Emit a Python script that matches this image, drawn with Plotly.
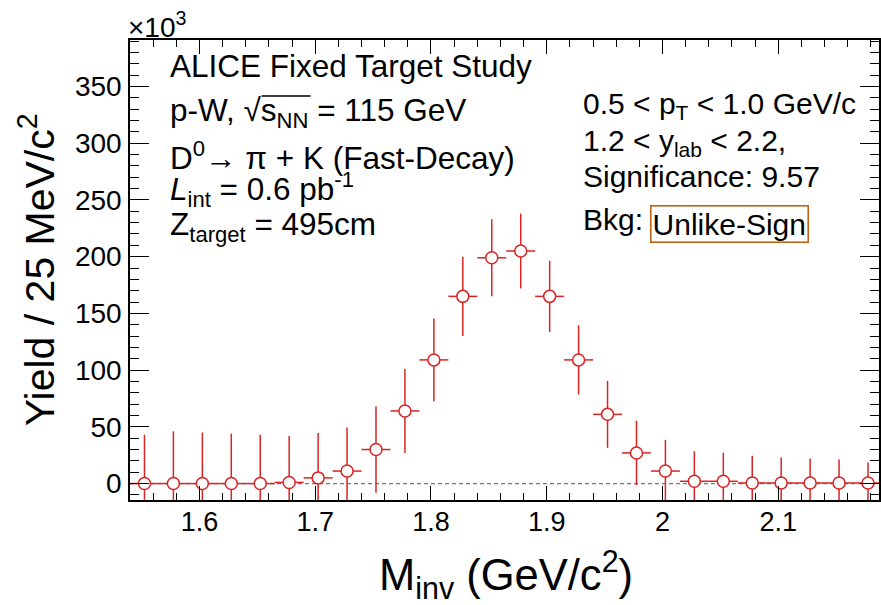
import plotly.graph_objects as go

# ---- data (yield in units of 10^3 per 25 MeV/c^2) ----
mass = [1.5525, 1.5775, 1.6025, 1.6275, 1.6525, 1.6775, 1.7025, 1.7275, 1.7525,
        1.7775, 1.8025, 1.8275, 1.8525, 1.8775, 1.9025, 1.9275, 1.9525, 1.9775,
        2.0025, 2.0275, 2.0525, 2.0775, 2.1025, 2.1275, 2.1525, 2.1775]
yields = [0, 0, 0, 0, 0, 1, 5, 11, 30,
          64, 109, 165, 199, 205, 165, 109, 61, 27,
          11, 2, 2, 0.5, 0.5, 0.5, 0.5, 0.5]
errors = [43, 46, 45, 44, 43, 41, 39.5, 38.5, 38,
          37, 36.5, 35, 34, 33, 31.5, 30.5, 29.5, 28.5,
          27.5, 26.5, 25.2, 24, 22.5, 21.5, 20.8, 18]
half_bin = [0.0125] * len(mass)

x_tickvals = [1.6, 1.7, 1.8, 1.9, 2.0, 2.1]
x_ticktext = ["1.6", "1.7", "1.8", "1.9", "2", "2.1"]
y_tickvals = [0, 50, 100, 150, 200, 250, 300, 350]
y_ticktext = ["0", "50", "100", "150", "200", "250", "300", "350"]

FONT = "Liberation Sans, Arial, Helvetica, sans-serif"
RED = "rgb(218,35,35)"

# plot area in pixels
W, H = 881, 605
L, R, T, B = 130, 0, 40, 105
PW, PH = W - L - R, H - T - B


def px(xp):
    return (xp - L) / PW


def py(yp):
    return (H - B - yp) / PH


fig = go.Figure()

fig.add_trace(go.Scatter(
    x=mass, y=yields, mode="markers",
    marker=dict(symbol="circle", size=12, color="white",
                line=dict(color=RED, width=1.5)),
    error_y=dict(type="data", array=errors, visible=True, color=RED,
                 thickness=1.5, width=0),
    error_x=dict(type="data", array=half_bin, visible=True, color=RED,
                 thickness=1.5, width=0),
    showlegend=False,
))

# dashed zero line
fig.add_shape(type="line", xref="paper", x0=0, x1=1, yref="y", y0=0, y1=0,
              line=dict(color="rgb(120,120,120)", width=1.3, dash="4px,3px"),
              layer="below")

fig.update_layout(
    width=W, height=H,
    margin=dict(l=L, r=R, t=T, b=B, pad=0),
    paper_bgcolor="white", plot_bgcolor="white",
    font=dict(family=FONT, color="black"),
    xaxis=dict(
        range=[1.54, 2.187], tickvals=x_tickvals, ticktext=x_ticktext,
        ticks="inside", ticklen=14, tickwidth=1.3, tickcolor="black",
        showline=True, linecolor="black", linewidth=1.5, mirror="ticks",
        showgrid=False, zeroline=False,
        tickfont=dict(size=27, family=FONT, color="black"),
        ticklabelstandoff=-3,
        minor=dict(ticks="inside", ticklen=7, dtick=0.02, tick0=1.54,
                   tickwidth=1.2, tickcolor="black", showgrid=False),
    ),
    yaxis=dict(
        range=[-14.5, 391], tickvals=y_tickvals, ticktext=y_ticktext,
        ticks="inside", ticklen=19, tickwidth=1.3, tickcolor="black",
        showline=True, linecolor="black", linewidth=1.5, mirror="ticks",
        showgrid=False, zeroline=False,
        tickfont=dict(size=28, family=FONT, color="black"),
        ticklabelstandoff=1,
        minor=dict(ticks="inside", ticklen=9, dtick=10, tick0=0,
                   tickwidth=1.2, tickcolor="black", showgrid=False),
    ),
)

ann = []
# axis titles
ann.append(dict(text="Yield / 25 MeV/c<sup>2</sup>", textangle=-90,
                x=px(37), y=py(270), xref="paper", yref="paper",
                xanchor="center", yanchor="middle", showarrow=False,
                font=dict(size=41, family=FONT)))
ann.append(dict(text="M<sub>inv</sub> (GeV/c<sup>2</sup>)",
                x=px(507), y=py(574), xref="paper", yref="paper",
                xanchor="center", yanchor="middle", showarrow=False,
                font=dict(size=43.5, family=FONT)))
# exponent label
ann.append(dict(text="\u00d710<sup>3</sup>",
                x=px(126), y=py(25), xref="paper", yref="paper",
                xanchor="left", yanchor="middle", showarrow=False,
                font=dict(size=28, family=FONT)))

left_lines = [
    ("ALICE Fixed Target Study", 66),
    ("p-W, \u221as<sub>NN</sub> = 115 GeV", 112),
    ("D<sup>0</sup>\u2192 \u03c0 + K (Fast-Decay)", 156),
    ("<i>L</i><sub>int</sub> = 0.6 pb<sup>-1</sup>", 189),
    ("Z<sub>target</sub> = 495cm", 226),
]
for txt, yc in left_lines:
    ann.append(dict(text=txt, x=px(168), y=py(yc), xref="paper", yref="paper",
                    xanchor="left", yanchor="middle", showarrow=False,
                    font=dict(size=31.5, family=FONT)))

right_lines = [
    ("0.5 &lt; p<sub>T</sub> &lt; 1.0 GeV/c", 106),
    ("1.2 &lt; y<sub>lab</sub> &lt; 2.2,", 142),
    ("Significance: 9.57", 177),
    ("Bkg:", 220),
]
for txt, yc in right_lines:
    ann.append(dict(text=txt, x=px(582), y=py(yc), xref="paper", yref="paper",
                    xanchor="left", yanchor="middle", showarrow=False,
                    font=dict(size=30, family=FONT)))

ann.append(dict(text="Unlike-Sign", x=px(731), y=py(223.5), xref="paper",
                yref="paper", xanchor="center", yanchor="middle",
                showarrow=False, font=dict(size=30, family=FONT),
                bordercolor="rgb(190,100,20)", borderwidth=1.6, borderpad=1))

fig.update_layout(annotations=ann)

# overline of the square root
fig.add_shape(type="line", xref="paper", yref="paper",
              x0=px(262), x1=px(311), y0=py(96), y1=py(96),
              line=dict(color="black", width=1.3))

fig.write_html("out.html")
